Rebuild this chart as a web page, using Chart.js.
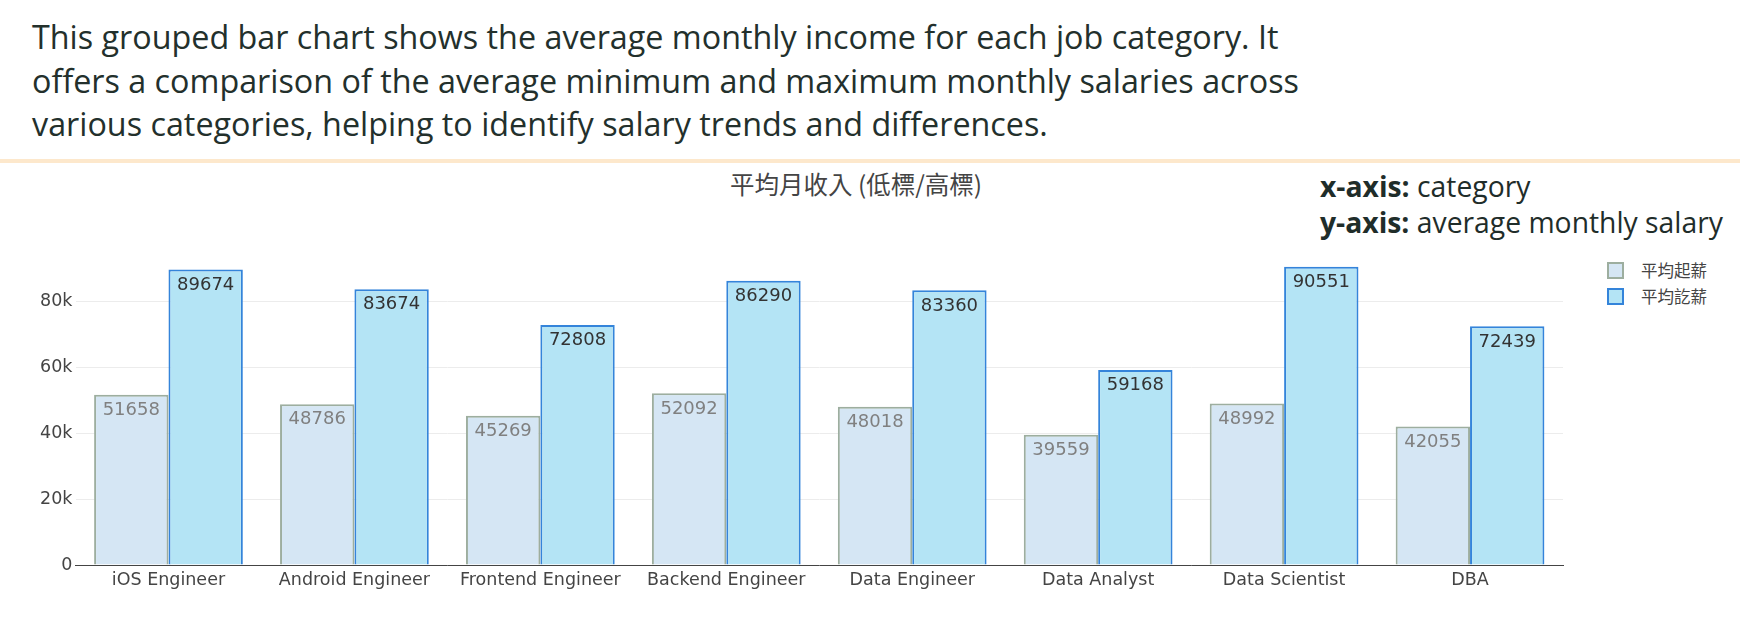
<!DOCTYPE html>
<html>
<head>
<meta charset="utf-8">
<script src="https://cdn.jsdelivr.net/npm/chart.js@4"></script>
<style>
  body { margin: 0; background: #fff; width: 1758px; height: 632px; overflow: hidden; position: relative; }
  .intro { position: absolute; left: 32px; top: 15px; font-family: 'Open Sans', sans-serif; font-size: 32.3px; line-height: 43.5px; color: #23302c; white-space: nowrap; }
  .rule { position: absolute; left: 0; top: 159px; width: 1740px; height: 4px; background: #fde8cc; }
  .axes-note { position: absolute; left: 1320px; top: 168px; font-family: 'Open Sans', sans-serif; font-size: 28.3px; line-height: 36px; color: #1f2d2a; white-space: nowrap; }
  .axes-note b { font-weight: 700; }
  .title { position: absolute; left: 856px; top: 172px; transform: translateX(-50%); font-family: 'Noto Sans CJK TC', sans-serif; font-size: 24.5px; line-height: 24.5px; color: #444; white-space: nowrap; }
  .legend { position: absolute; left: 1607px; top: 257px; font-family: 'Noto Sans CJK TC', sans-serif; font-size: 16.5px; color: #444; }
  .legend div { height: 26px; display: flex; align-items: center; }
  .legend span.sw { width: 13px; height: 13px; margin-right: 17px; border: 2px solid; }
  #wrap { position: absolute; left: 0; top: 0; width: 1758px; height: 632px; }
</style>
</head>
<body>
<div class="intro">This grouped bar chart shows the average monthly income for each job category. It<br>offers a comparison of the average minimum and maximum monthly salaries across<br>various categories, helping to identify salary trends and differences.</div>
<div class="rule"></div>
<div class="axes-note"><b>x-axis:</b> category<br><b>y-axis:</b> average monthly salary</div>
<div class="title">平均月收入 (低標/高標)</div>
<div class="legend" id="legend"></div>
<div id="wrap"><canvas id="chart" width="1758" height="632"></canvas></div>
<script>
const categories = ['iOS Engineer', 'Android Engineer', 'Frontend Engineer', 'Backend Engineer', 'Data Engineer', 'Data Analyst', 'Data Scientist', 'DBA'];
const minSalary = [51658, 48786, 45269, 52092, 48018, 39559, 48992, 42055];
const maxSalary = [89674, 83674, 72808, 86290, 83360, 59168, 90551, 72439];
const seriesNames = ['平均起薪', '平均訖薪'];
const yTicks = [0, 20000, 40000, 60000, 80000];

const fills = ['#d5e6f4', '#b4e4f5'];
const borders = ['#9dae9f', '#3484da'];
const labelColors = ['#808080', '#333333'];

// legend
const legend = document.getElementById('legend');
seriesNames.forEach((name, i) => {
    legend.innerHTML += `<div><span class="sw" style="background:${fills[i]};border-color:${borders[i]}"></span>${name}</div>`;
});

// value text inside the top of each bar
const barLabels = {
    id: 'barLabels',
    afterDatasetsDraw(chart) {
        const ctx = chart.ctx;
        ctx.save();
        ctx.font = '18px "DejaVu Sans"';
        ctx.textAlign = 'center';
        ctx.textBaseline = 'middle';
        chart.data.datasets.forEach((ds, i) => {
            ctx.fillStyle = labelColors[i];
            chart.getDatasetMeta(i).data.forEach((bar, j) => {
                ctx.fillText(String(ds.data[j]), bar.x, bar.y + 15.5);
            });
        });
        ctx.restore();
    }
};

const ctx = document.getElementById('chart').getContext('2d');
new Chart(ctx, {
    type: 'bar',
    data: {
        labels: categories,
        datasets: [
            { label: seriesNames[0], data: minSalary, backgroundColor: fills[0], borderColor: borders[0], borderWidth: 2, borderSkipped: 'bottom' },
            { label: seriesNames[1], data: maxSalary, backgroundColor: fills[1], borderColor: borders[1], borderWidth: 2, borderSkipped: 'bottom' }
        ]
    },
    options: {
        responsive: false,
        animation: false,
        layout: { padding: { top: 252, right: 195, bottom: 0, left: 0 } },
        datasets: { bar: { categoryPercentage: 0.8, barPercentage: 1.0 } },
        plugins: { legend: { display: false }, title: { display: false }, tooltip: { enabled: false } },
        scales: {
            x: {
                grid: { display: false },
                border: { color: '#444', width: 1 },
                ticks: { color: '#444', font: { family: 'DejaVu Sans', size: 17.5 }, padding: -3, maxRotation: 0, autoSkip: false },
                afterFit(scale) { scale.height = 67; }
            },
            y: {
                min: 0,
                max: 95000,
                border: { display: false },
                grid: { color: '#ececec', lineWidth: 1, drawTicks: false },
                ticks: {
                    color: '#444',
                    font: { family: 'DejaVu Sans', size: 17.5 },
                    padding: 3,
                    callback: v => v === 0 ? '0' : (v / 1000) + 'k'
                },
                afterBuildTicks(scale) { scale.ticks = yTicks.map(v => ({ value: v })); },
                afterFit(scale) { scale.width = 75.5; }
            }
        }
    },
    plugins: [barLabels]
});
</script>
</body>
</html>
